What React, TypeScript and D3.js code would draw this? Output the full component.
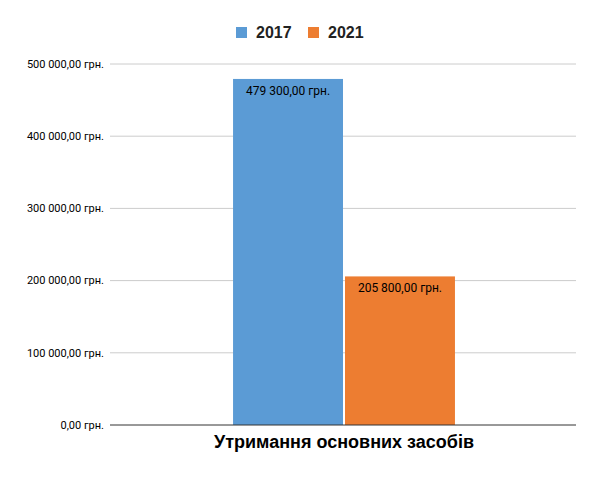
import React from "react";
import * as d3 from "d3";

const categories = ["Утримання основних засобів"];
const seriesNames = ["2017", "2021"];
const values2017 = [479300];
const values2021 = [205800];
const yTicks = [0, 100000, 200000, 300000, 400000, 500000];
const colors = ["#5b9bd5", "#ed7d31"];

const width = 600;
const height = 477;
const margin = { top: 64, right: 24, bottom: 52, left: 110 };

function fmt(v: number) {
  const parts = v.toFixed(2).split(".");
  const intPart = parts[0].replace(/\B(?=(\d{3})+(?!\d))/g, " ");
  return intPart + "," + parts[1] + " грн.";
}

export default function App() {
  const series = [values2017, values2021];
  const x0 = d3
    .scaleBand<string>()
    .domain(categories)
    .range([margin.left + 1, width - margin.right + 1])
    .paddingInner(0)
    .paddingOuter(0.55);
  const x1 = d3
    .scaleBand<string>()
    .domain(seriesNames)
    .range([0, x0.bandwidth()])
    .paddingInner(0.018);
  const y = d3
    .scaleLinear()
    .domain([0, 500000])
    .range([height - margin.bottom, margin.top]);

  return (
    <svg width={width} height={height} style={{ position: "absolute", left: 0, top: 0 }}>
      <rect width={width} height={height} fill="#fff" />
      {yTicks.map(t => (
        <g key={t}>
          {t > 0 && (
            <line x1={margin.left} x2={width - margin.right} y1={y(t)} y2={y(t)} stroke="#cccccc" strokeWidth={1} />
          )}
          <text x={104} y={y(t)} dy="0.35em" textAnchor="end" fontFamily="Roboto, Arial, sans-serif" fontSize={11} fill="#000">
            {fmt(t)}
          </text>
        </g>
      ))}
      {categories.map((c, ci) => (
        <g key={c} transform={`translate(${x0(c)},0)`}>
          {seriesNames.map((s, si) => {
            const v = series[si][ci];
            const bx = x1(s) as number;
            return (
              <g key={s}>
                <rect x={bx} y={y(v)} width={x1.bandwidth()} height={y(0) - y(v)} fill={colors[si]} />
                <text x={bx + x1.bandwidth() / 2} y={y(v) + 16} textAnchor="middle" fontFamily="Roboto, Arial, sans-serif" fontSize={12} fill="#000">
                  {fmt(v)}
                </text>
              </g>
            );
          })}
          <text x={x0.bandwidth() / 2} y={448} textAnchor="middle" fontFamily="'Liberation Sans', Arial, sans-serif" fontWeight="bold" fontSize={18} fill="#000">
            {c}
          </text>
        </g>
      ))}
      <line x1={margin.left} x2={width - margin.right} y1={y(0)} y2={y(0)} stroke="#333" strokeWidth={1} />
      {seriesNames.map((s, i) => (
        <g key={s} transform={`translate(${236 + i * 72},27)`}>
          <rect width={11} height={11} fill={colors[i]} />
          <text x={20} y={11} fontFamily="'Liberation Sans', Arial, sans-serif" fontWeight="bold" fontSize={16} fill="#222">
            {s}
          </text>
        </g>
      ))}
    </svg>
  );
}
